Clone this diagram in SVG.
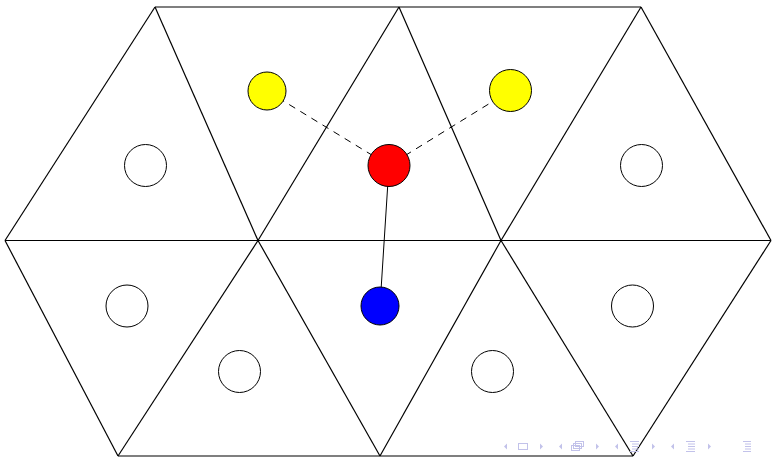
<svg xmlns="http://www.w3.org/2000/svg" width="772" height="457" viewBox="0 0 772 457">
<style>
.grid line{stroke:#000;stroke-width:1.2;fill:none}
.node circle{stroke:#000;stroke-width:1}
.empty{fill:#fff}
.edge{stroke:#000;stroke-width:1;fill:none}
.dash{stroke-dasharray:7 6}
.nav{fill:#c2c2ea}
.navs{stroke:#c2c2ea;stroke-width:1;fill:none}
</style>
<rect width="772" height="457" fill="#fff"/>
<g id="grid" class="grid">
<line x1="155" y1="7" x2="641" y2="7"/>
<line x1="5" y1="240.5" x2="771" y2="240.5"/>
<line x1="118" y1="456" x2="633" y2="456"/>
<line x1="155" y1="7" x2="5" y2="240.5"/>
<line x1="155" y1="7" x2="258" y2="240.5"/>
<line x1="399" y1="7" x2="258" y2="240.5"/>
<line x1="399" y1="7" x2="501" y2="240.5"/>
<line x1="641" y1="7" x2="501" y2="240.5"/>
<line x1="641" y1="7" x2="771" y2="240.5"/>
<line x1="5" y1="240.5" x2="118" y2="456"/>
<line x1="258" y1="240.5" x2="118" y2="456"/>
<line x1="258" y1="240.5" x2="380" y2="456"/>
<line x1="501" y1="240.5" x2="380" y2="456"/>
<line x1="501" y1="240.5" x2="633" y2="456"/>
<line x1="771" y1="240.5" x2="633" y2="456"/>
</g>
<g id="connectors">
<line class="edge dash" x1="267" y1="91" x2="389" y2="165.5"/>
<line class="edge dash" x1="510.5" y1="90.5" x2="389" y2="165.5"/>
<line class="edge" x1="389" y1="165.5" x2="380" y2="306"/>
</g>
<g id="n1" class="node"><circle class="empty" cx="145.5" cy="165.5" r="21"/></g>
<g id="n2" class="node"><circle fill="#ff0" cx="267" cy="91" r="19"/></g>
<g id="n3" class="node"><circle fill="#f00" cx="389" cy="165.5" r="21"/></g>
<g id="n4" class="node"><circle fill="#ff0" cx="510.5" cy="90.5" r="21"/></g>
<g id="n5" class="node"><circle class="empty" cx="641.5" cy="165.5" r="21"/></g>
<g id="n6" class="node"><circle class="empty" cx="127" cy="306" r="21"/></g>
<g id="n7" class="node"><circle class="empty" cx="239.5" cy="371.5" r="21"/></g>
<g id="n8" class="node"><circle fill="#00f" cx="380" cy="306" r="19"/></g>
<g id="n9" class="node"><circle class="empty" cx="492.5" cy="371.5" r="21"/></g>
<g id="n10" class="node"><circle class="empty" cx="632.5" cy="306" r="21"/></g>
<g id="navigation">
<polygon class="nav" points="507,443.5 504,446.5 507,449.5"/>
<rect class="navs" x="518.5" y="443.5" width="9" height="6"/>
<polygon class="nav" points="540,443.5 543,446.5 540,449.5"/>
<polygon class="nav" points="562,443.5 559,446.5 562,449.5"/>
<rect class="navs" x="571.5" y="445.5" width="8" height="5" fill="#fff"/>
<rect class="navs" x="573.5" y="443.5" width="8" height="5" fill="#fff"/>
<rect class="navs" x="575.5" y="441.5" width="8" height="5" fill="#fff"/>
<polygon class="nav" points="596,443.5 599,446.5 596,449.5"/>
<polygon class="nav" points="618,443.5 615,446.5 618,449.5"/>
<path class="navs" d="M630,441.5h9M632,444h7M632,446.5h7M632,449h7M630,451.5h9"/>
<polygon class="nav" points="652,443.5 655,446.5 652,449.5"/>
<polygon class="nav" points="674,443.5 671,446.5 674,449.5"/>
<path class="navs" d="M686,441.5h9M688,444h7M688,446.5h7M688,449h7M686,451.5h9"/>
<polygon class="nav" points="708,443.5 711,446.5 708,449.5"/>
<path class="navs" d="M743,441.5h8M745,444h6M745,446.5h6M745,449h6M743,451.5h8"/>
</g>
</svg>
